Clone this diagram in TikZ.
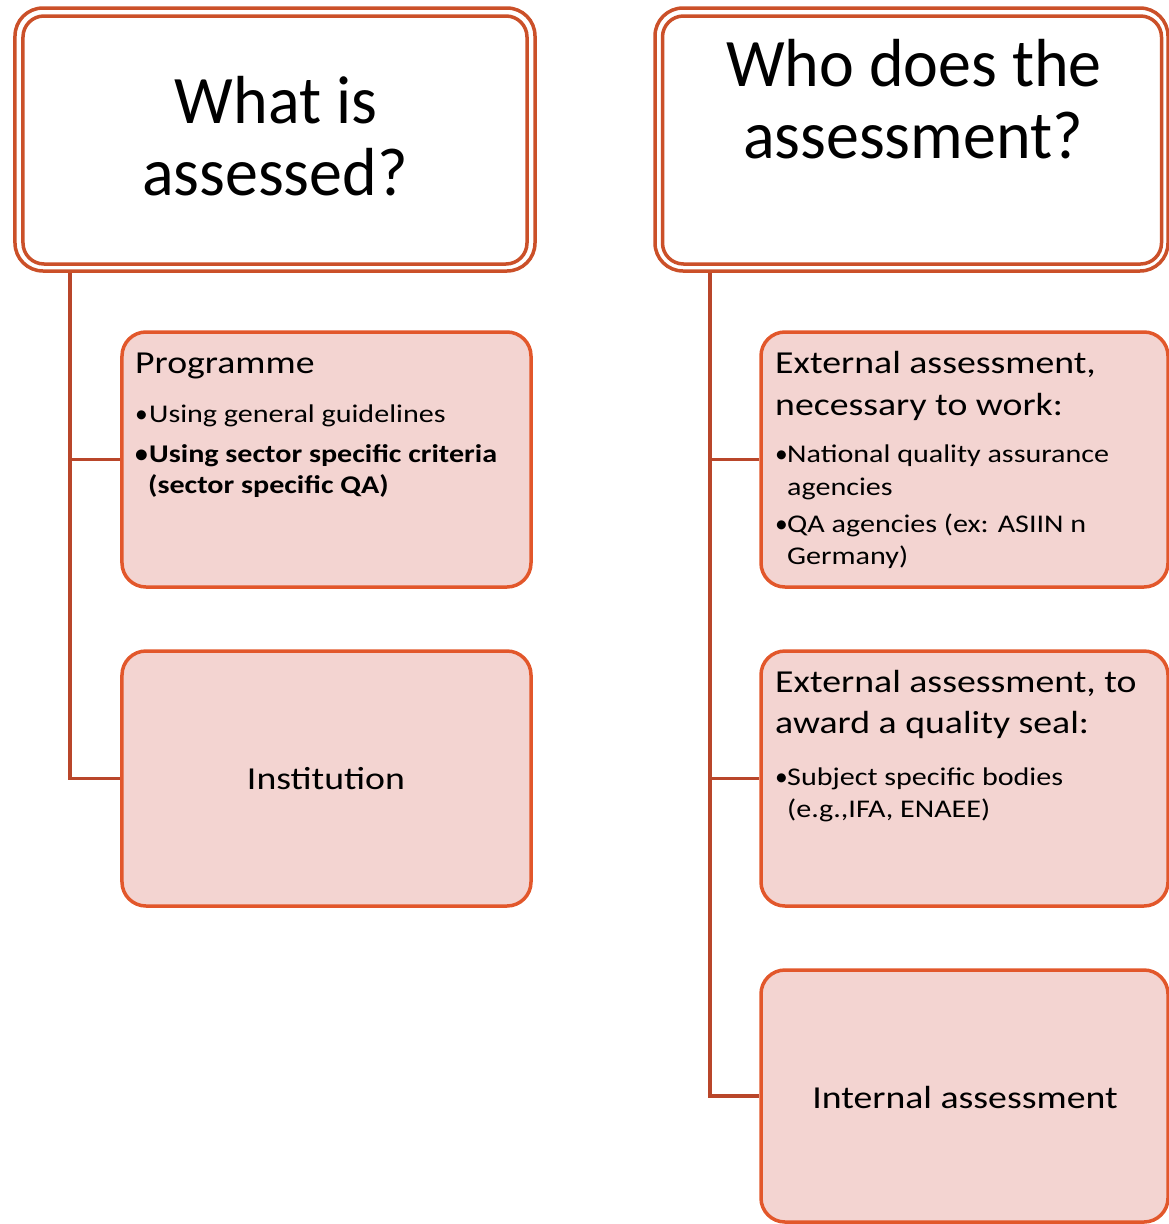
\documentclass[tikz,border=0pt]{standalone}
\usepackage{fontspec}
\setmainfont{Carlito}[FakeStretch=1.18]
\newfontfamily\titlefont{Carlito}[FakeStretch=0.97]
\newfontfamily\plainfont{Carlito}
\definecolor{dblc}{HTML}{CB5029}
\definecolor{boxc}{HTML}{E2572B}
\definecolor{connc}{HTML}{B9462A}
\definecolor{fillc}{HTML}{F3D4D1}
\tikzset{
  outerbox/.style={draw=dblc, line width=3.5bp, rounded corners=28bp, rectangle, inner sep=0pt, fill=white},
  innerbox/.style={draw=dblc, line width=3.5bp, rounded corners=21bp, rectangle, inner sep=0pt},
  itembox/.style={draw=boxc, fill=fillc, line width=3.5bp, rounded corners=24bp, rectangle, inner sep=0pt},
  conn/.style={draw=connc, line width=3.5bp},
  titletxt/.style={inner sep=0pt, anchor=base, font=\titlefont\fontsize{68bp}{72bp}\selectfont},
  headtxt/.style={inner sep=0pt, anchor=base west, font=\fontsize{32bp}{40bp}\selectfont},
  bultxt/.style={inner sep=0pt, anchor=base west, font=\fontsize{25.5bp}{32bp}\selectfont},
  bulmark/.style={inner sep=0pt, anchor=base west, font=\plainfont\fontsize{25.5bp}{32bp}\selectfont},
  centxt/.style={inner sep=0pt, anchor=base, font=\fontsize{32bp}{40bp}\selectfont},
}
\begin{document}
\begin{tikzpicture}[x=1bp,y=-1bp]
\useasboundingbox (0,0) rectangle (1169,1224);
% title boxes
\node[outerbox, minimum width=520bp, minimum height=263bp] (t1o) at (275,139.5) {};
\node[innerbox, minimum width=504bp, minimum height=248bp] (t1i) at (275,140) {};
\node[outerbox, minimum width=513bp, minimum height=263bp] (t2o) at (911.5,139.5) {};
\node[innerbox, minimum width=499bp, minimum height=248bp] (t2i) at (912,140) {};
\node[titletxt] (t1a) at (276,123) {What is};
\node[titletxt] (t1b) at (275,195) {assessed?};
\node[titletxt] (t2a) at (914,86) {Who does the};
\node[titletxt] (t2b) at (913,158) {assessment?};
% item boxes
\node[itembox, minimum width=409bp, minimum height=255bp] (prog) at (326.5,459.5) {};
\node[itembox, minimum width=409bp, minimum height=255bp] (inst) at (326.5,778.5) {};
\node[itembox, minimum width=407bp, minimum height=255bp] (ext1) at (964.5,459.5) {};
\node[itembox, minimum width=407bp, minimum height=255bp] (ext2) at (964.5,778.5) {};
\node[itembox, minimum width=407bp, minimum height=252bp] (int) at (964.5,1096) {};
% connectors
\coordinate (lstem) at (70,0);
\coordinate (rstem) at (710,0);
\draw[conn] (t1o.south -| lstem) |- (prog.west);
\draw[conn] (t1o.south -| lstem) |- (inst.west);
\draw[conn] (t2o.south -| rstem) |- (ext1.west);
\draw[conn] (t2o.south -| rstem) |- (ext2.west);
\draw[conn] (t2o.south -| rstem) |- (int.west);
% programme text
\node[headtxt] (p0) at (135,373) {Programme};
\node[bulmark] (p1b) at (135,422) {•};
\node[bultxt] (p1) at (149,422) {Using general guidelines};
\node[bulmark] (p2b) at (135,462) {\bfseries •};
\node[bultxt] (p2) at (149,462) {\bfseries Using sector specific criteria};
\node[bultxt] (p3) at (148,493) {\bfseries (sector specific QA)};
% institution
\node[centxt] (i0) at (326,789) {Institution};
% external 1
\node[headtxt] (e0) at (775,373) {External assessment,};
\node[headtxt] (e1) at (775,415) {necessary to work:};
\node[bulmark] (e2b) at (775,462) {•};
\node[bultxt] (e2) at (787,462) {National quality assurance};
\node[bultxt] (e3) at (787,495) {agencies};
\node[bulmark] (e4b) at (775,532) {•};
\node[bultxt] (e4) at (787,532) {QA agencies (ex: ASIIN n};
\node[bultxt] (e5) at (787,564) {Germany)};
% external 2
\node[headtxt] (f0) at (775,692) {External assessment, to};
\node[headtxt] (f1) at (775,733) {award a quality seal:};
\node[bulmark] (f2b) at (775,785) {•};
\node[bultxt] (f2) at (787,785) {Subject specific bodies};
\node[bultxt] (f3) at (787,817) {(e.g.,IFA, ENAEE)};
% internal
\node[centxt] (n0) at (965,1108) {Internal assessment};
\end{tikzpicture}
\end{document}
